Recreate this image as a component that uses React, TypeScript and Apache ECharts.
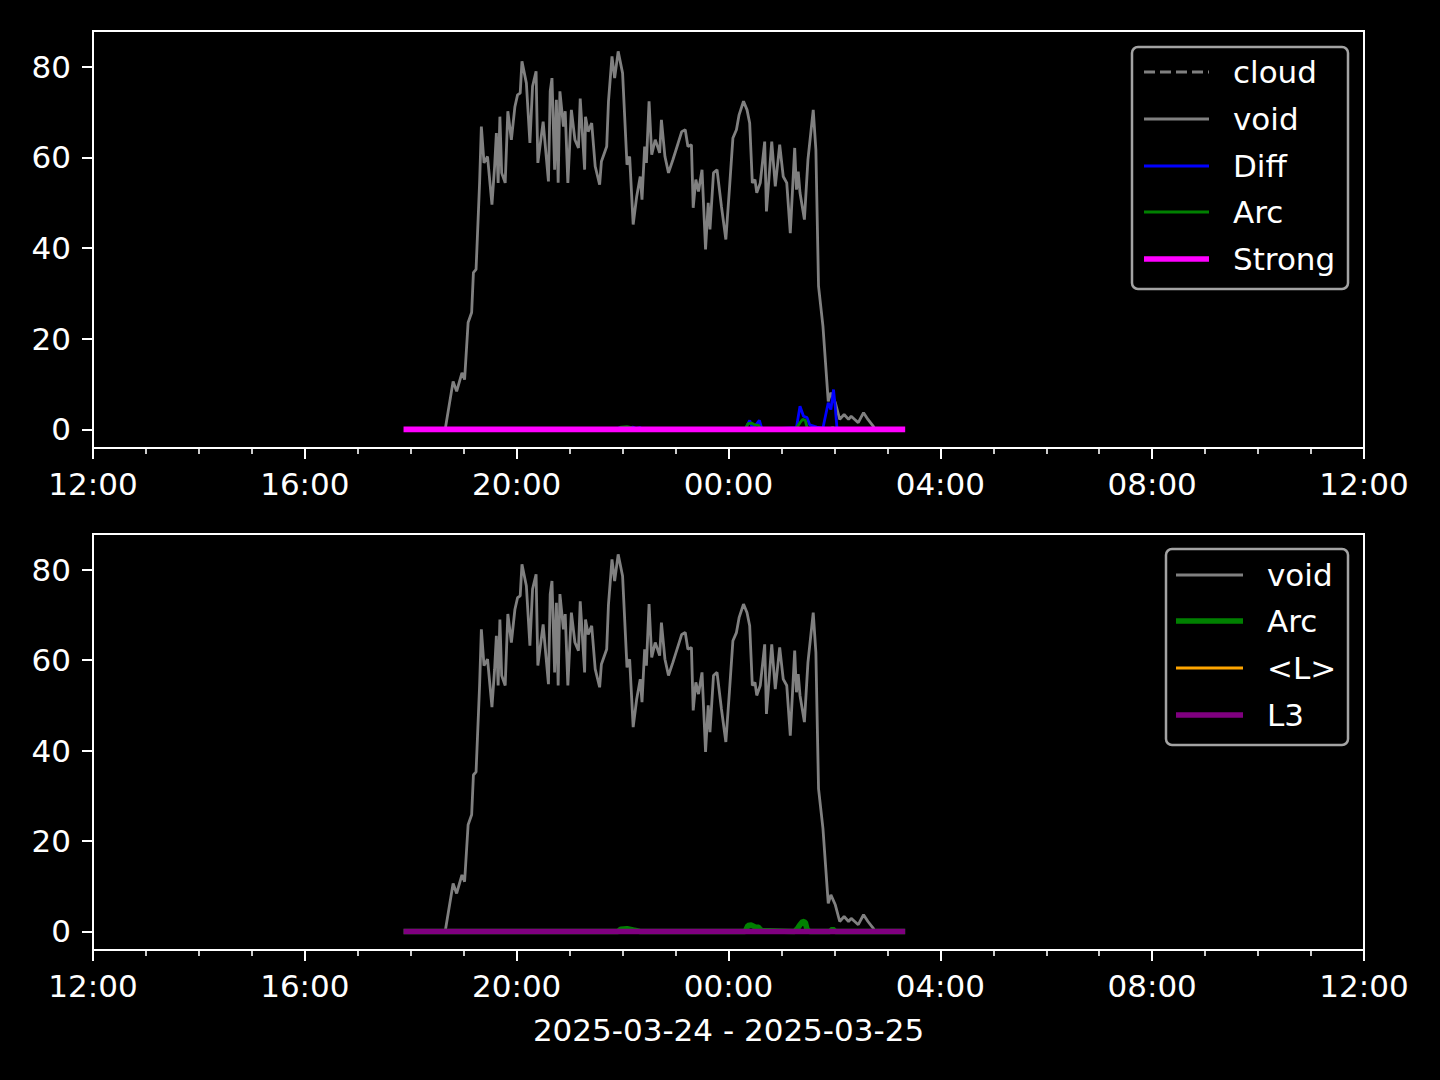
import React, { useEffect, useRef } from "react";
import * as echarts from "echarts";

// ---------- data ----------
const xTickLabels = ["12:00", "16:00", "20:00", "00:00", "04:00", "08:00", "12:00"];
const yTicks = [0, 20, 40, 60, 80];
const xLabelText = "2025-03-24 - 2025-03-25";

const voidTimes = [
  "17:55", "18:39", "18:48", "18:52", "18:58", "19:01", "19:05", "19:09", "19:11", "19:14",
  "19:18", "19:20", "19:23", "19:27", "19:32", "19:35", "19:37", "19:39", "19:41", "19:43",
  "19:47", "19:50", "19:54", "19:58", "20:01", "20:04", "20:06", "20:11", "20:15", "20:18",
  "20:22", "20:24", "20:30", "20:36", "20:38", "20:40", "20:43", "20:45", "20:47", "20:49",
  "20:53", "20:55", "20:58", "21:02", "21:06", "21:10", "21:12", "21:17", "21:18", "21:21",
  "21:25", "21:29", "21:34", "21:36", "21:42", "21:44", "21:48", "21:51", "21:55", "22:00",
  "22:05", "22:08", "22:12", "22:16", "22:20", "22:22", "22:25", "22:27", "22:30", "22:33",
  "22:37", "22:42", "22:44", "22:48", "22:52", "22:57", "23:03", "23:07", "23:11", "23:14",
  "23:18", "23:20", "23:23", "23:26", "23:30", "23:32", "23:34", "23:37", "23:39", "23:43",
  "23:47", "23:52", "23:57", "00:01", "00:05", "00:09", "00:12", "00:17", "00:21", "00:24",
  "00:27", "00:30", "00:32", "00:36", "00:41", "00:43", "00:46", "00:49", "00:53", "00:58",
  "01:02", "01:06", "01:10", "01:15", "01:17", "01:19", "01:21", "01:26", "01:30", "01:36",
  "01:39", "01:42", "01:47", "01:53", "01:56", "02:01", "02:06", "02:11", "02:16", "02:19",
  "02:23", "02:27", "02:33", "02:38", "02:44",
];
const voidValues = [
  0, 0, 10.6, 8.4, 12.5, 11, 23.6, 25.8, 34.6, 35.3,
  54.4, 66.8, 58.8, 60.2, 49.6, 58, 65.4, 54.4, 69, 56.6,
  54.4, 70.2, 63.9, 71.2, 73.8, 74.2, 81.2, 76.4, 63.2, 75.7,
  79, 58.8, 67.9, 54.7, 74.6, 77.5, 57.3, 72.7, 54.4, 74.6,
  66.8, 70.2, 54.4, 70.5, 63.9, 62.1, 73, 57.3, 69, 65.7,
  67.6, 58, 54, 59.1, 62.4, 72.3, 82.3, 77.5, 83.4, 78.6,
  58.4, 60.2, 45.2, 51.4, 55.8, 50.7, 62.4, 58.8, 72.4, 60.6,
  63.9, 61, 68.3, 60.2, 56.6, 59.5, 63.2, 65.7, 66.1, 62.4,
  62.8, 48.9, 55.1, 52.5, 57.3, 48.5, 39.7, 50, 44.1, 56.6,
  57.3, 49.2, 41.9, 52.9, 64.3, 66.1, 69.4, 72.4, 70.5, 67.6,
  54.4, 55.1, 52.2, 54.4, 63.5, 48.1, 55.8, 63.5, 53.6, 62.8,
  55.8, 54.4, 43.3, 62.1, 52.9, 56.9, 52.2, 46.3, 59.5, 70.5,
  61.7, 31.6, 22.8, 6.2, 8.1, 5.9, 2.2, 3.3, 2.2, 2.9,
  2.2, 1.5, 3.7, 2.2, 0.7,
];

const diffTimes = [
  "17:55", "21:55", "21:57", "22:00", "22:12", "22:15", "22:20", "22:22", "00:19", "00:24", "00:27",
  "00:31", "00:35", "00:38", "01:17", "01:21", "01:25", "01:29", "01:32", "01:40", "01:47",
  "01:53", "01:56", "01:59", "02:01", "02:03", "03:17",
];
const diffValues = [
  0, 0, 0.5, 0, 0.5, 0.2, 0.4, 0, 0, 2.0, 0.3,
  1.0, 2.0, 0, 0.4, 5.1, 2.9, 2.6, 1.0, 0.5, 0.3,
  5.9, 4.4, 8.8, 4.8, 0, 0,
];

const arcTimes = [
  "17:55", "21:55", "21:58", "22:05", "22:12", "22:20", "00:19", "00:22", "00:26", "00:30",
  "00:34", "00:37", "01:15", "01:18", "01:21", "01:24", "01:27", "01:29", "01:32", "01:55",
  "01:58", "02:01", "03:17",
];
const arcValues = [
  0, 0, 0.5, 0.6, 0.3, 0, 0, 1.3, 1.4, 1.0,
  0.9, 0.2, 0, 0.6, 1.5, 2.2, 2.0, 0.4, 0, 0,
  0.5, 0, 0,
];

const flatTimes = ["17:55", "03:17"];
const strongValues = [0, 0];
const lValues = [0, 0];
const l3Values = [0, 0];
const cloudValues: number[] = [];

// ---------- helpers ----------
const toMin = (t: string) => {
  const [h, m] = t.split(":").map(Number);
  let v = h * 60 + m - 720;
  if (v < 0) v += 1440;
  return v;
};
const pairs = (times: string[], vals: number[]) => times.map((t, i) => [toMin(t), vals[i]]);

const FONT = "DejaVu Sans";
const FS = 31;

const GRID_L = 93;
const GRID_W = 1271;
const grids = [
  { left: GRID_L, top: 31, width: GRID_W, height: 417 },
  { left: GRID_L, top: 534, width: GRID_W, height: 416 },
];

function legendGraphic(
  box: { x: number; y: number; w: number; h: number },
  items: { name: string; color: string; width: number; dash?: number[]; y: number }[],
  lineX0: number,
  lineX1: number,
  textX: number
) {
  const els: any[] = [
    {
      type: "rect",
      shape: { x: box.x, y: box.y, width: box.w, height: box.h, r: 6 },
      style: { fill: "rgba(0,0,0,0.8)", stroke: "#a3a3a3", lineWidth: 2.5 },
      z: 100,
    },
  ];
  items.forEach((it) => {
    els.push({
      type: "line",
      shape: { x1: lineX0, y1: it.y, x2: lineX1, y2: it.y },
      style: { stroke: it.color, lineWidth: it.width, lineDash: it.dash || null },
      z: 101,
    });
    els.push({
      type: "text",
      x: textX,
      y: it.y,
      style: {
        text: it.name,
        fill: "#ffffff",
        font: `${FS}px "${FONT}"`,
        verticalAlign: "middle",
        align: "left",
      },
      z: 101,
    });
  });
  return els;
}

export default function App() {
  const ref = useRef<HTMLDivElement>(null);

  useEffect(() => {
    document.body.style.margin = "0";
    document.body.style.background = "#000";
    if (!ref.current) return;
    const chart = echarts.init(ref.current, null, { renderer: "svg" });

    const xAxisBase = (gridIndex: number, withName: boolean) => ({
      type: "value",
      gridIndex,
      min: 0,
      max: 1440,
      interval: 240,
      axisLine: { show: true, onZero: false, lineStyle: { color: "#fff", width: 2 } },
      axisTick: { show: true, length: 11, lineStyle: { color: "#fff", width: 2 } },
      minorTick: { show: true, splitNumber: 4, length: 6, lineStyle: { color: "#fff", width: 1.6 } },
      splitLine: { show: false },
      axisLabel: {
        color: "#fff",
        fontFamily: FONT,
        fontSize: FS,
        margin: 20,
        formatter: (v: number) => xTickLabels[Math.round(v / 240)] ?? "",
      },
      name: withName ? xLabelText : "",
      nameLocation: "middle",
      nameGap: 64,
      nameTextStyle: { color: "#fff", fontFamily: FONT, fontSize: FS },
    });

    const yAxisBase = (gridIndex: number) => ({
      type: "value",
      gridIndex,
      min: -4.1,
      max: 87.9,
      axisLine: { show: true, onZero: false, lineStyle: { color: "#fff", width: 2 } },
      axisTick: { show: true, length: 11, lineStyle: { color: "#fff", width: 2 }, customValues: yTicks },
      splitLine: { show: false },
      axisLabel: {
        color: "#fff",
        fontFamily: FONT,
        fontSize: FS,
        margin: 22,
        customValues: yTicks,
      },
    });

    const line = (
      name: string,
      data: any[],
      color: string,
      width: number,
      idx: number,
      z: number,
      type: string = "solid"
    ) => ({
      type: "line",
      name,
      xAxisIndex: idx,
      yAxisIndex: idx,
      data,
      showSymbol: false,
      symbol: "none",
      z,
      lineStyle: { color, width, type, cap: "square" },
      itemStyle: { color },
    });

    const option: any = {
      animation: false,
      backgroundColor: "#000",
      textStyle: { fontFamily: FONT },
      grid: grids.map((g) => ({
        ...g,
        show: true,
        borderColor: "#fff",
        borderWidth: 2,
        backgroundColor: "#000",
        containLabel: false,
      })),
      xAxis: [xAxisBase(0, false), xAxisBase(1, true)],
      yAxis: [yAxisBase(0), yAxisBase(1)],
      series: [
        line("cloud", cloudValues, "#808080", 2.8, 0, 2, "dashed"),
        line("void", pairs(voidTimes, voidValues), "#808080", 2.8, 0, 3),
        line("Diff", pairs(diffTimes, diffValues), "#0000ff", 2.8, 0, 4),
        line("Arc", pairs(arcTimes, arcValues), "#008000", 2.8, 0, 5),
        line("Strong", pairs(flatTimes, strongValues), "#ff00ff", 5.6, 0, 6),
        line("void", pairs(voidTimes, voidValues), "#808080", 2.8, 1, 3),
        line("Arc", pairs(arcTimes, arcValues), "#008000", 5.6, 1, 4),
        line("<L>", pairs(flatTimes, lValues), "#ffa500", 2.8, 1, 5),
        line("L3", pairs(flatTimes, l3Values), "#800080", 5.6, 1, 6),
      ],
      graphic: [
        ...legendGraphic(
          { x: 1132, y: 47, w: 216, h: 242 },
          [
            { name: "cloud", color: "#808080", width: 2.8, dash: [11, 5], y: 72 },
            { name: "void", color: "#808080", width: 2.8, y: 119 },
            { name: "Diff", color: "#0000ff", width: 2.8, y: 166 },
            { name: "Arc", color: "#008000", width: 2.8, y: 212 },
            { name: "Strong", color: "#ff00ff", width: 5.6, y: 259 },
          ],
          1144,
          1209,
          1233
        ),
        ...legendGraphic(
          { x: 1166, y: 549, w: 182, h: 196 },
          [
            { name: "void", color: "#808080", width: 2.8, y: 575 },
            { name: "Arc", color: "#008000", width: 5.6, y: 621 },
            { name: "<L>", color: "#ffa500", width: 2.8, y: 668 },
            { name: "L3", color: "#800080", width: 5.6, y: 715 },
          ],
          1176,
          1243,
          1267
        ),
      ],
    };

    chart.setOption(option);
    return () => chart.dispose();
  }, []);

  return (
    <div
      ref={ref}
      style={{ width: 1440, height: 1080, background: "#000", position: "absolute", left: 0, top: 0 }}
    />
  );
}
